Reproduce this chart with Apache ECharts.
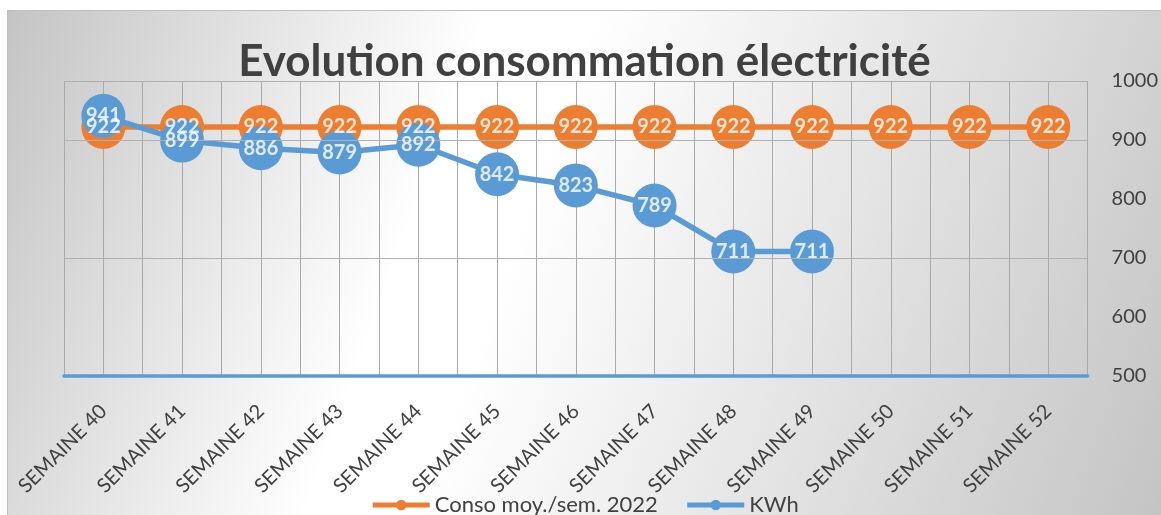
<!DOCTYPE html>
<html>
<head>
<meta charset="utf-8">
<script src="https://cdn.jsdelivr.net/npm/echarts@6/dist/echarts.min.js"></script>
<style>
  html, body { margin: 0; padding: 0; background: #ffffff; width: 1161px; height: 515px; overflow: hidden; }
  #chart {
    position: absolute; left: 7px; top: 10px; width: 1154px; height: 505px;
    box-sizing: border-box; border-top: 1px solid #c0c0c0; border-left: 1px solid #c0c0c0;
    background: linear-gradient(110deg, #c4c4c4 0%, #ffffff 36%, #ffffff 44%, #c4c4c4 100%);
  }
</style>
</head>
<body>
<div id="chart"></div>
<script>
const titleText = 'Evolution consommation électricité';
const categories = ['SEMAINE 40','SEMAINE 41','SEMAINE 42','SEMAINE 43','SEMAINE 44','SEMAINE 45','SEMAINE 46','SEMAINE 47','SEMAINE 48','SEMAINE 49','SEMAINE 50','SEMAINE 51','SEMAINE 52'];
const consoName = 'Conso moy./sem. 2022';
const consoValues = [922, 922, 922, 922, 922, 922, 922, 922, 922, 922, 922, 922, 922];
const kwhName = 'KWh';
const kwhValues = [941, 899, 886, 879, 892, 842, 823, 789, 711, 711, null, null, null];
const yMin = 500, yMax = 1000, yStep = 100;
const hGridLevels = [1000, 900, 700];

const ORANGE = '#ED7D31', BLUE = '#5B9BD5', TEXT = '#404040';
const FONT = 'Lato';

const chart = echarts.init(document.getElementById('chart'), null, { renderer: 'canvas' });

function lineSeries(name, data, color, z) {
  return {
    name: name, type: 'line', data: data, z: z,
    xAxisIndex: 0, yAxisIndex: 0,
    symbol: 'circle', symbolSize: 44, showSymbol: true,
    connectNulls: false,
    lineStyle: { color: color, width: 5.5 },
    itemStyle: { color: color },
    label: { show: false },
    emphasis: { disabled: true },
    animation: false
  };
}

function labelSeries(name, data) {
  return {
    name: name + ' labels', type: 'scatter', data: data, z: 10,
    xAxisIndex: 0, yAxisIndex: 0,
    symbol: 'circle', symbolSize: 1, itemStyle: { color: 'rgba(0,0,0,0)' },
    silent: true,
    label: {
      show: true, position: 'inside', color: '#ffffff',
      textBorderWidth: 0, textBorderColor: 'transparent',
      fontFamily: FONT, fontWeight: 'bold', fontSize: 20
    },
    emphasis: { disabled: true },
    animation: false
  };
}

chart.setOption({
  backgroundColor: 'transparent',
  animation: false,
  textStyle: { fontFamily: FONT },
  title: {
    text: titleText, left: 'center', top: 24,
    textStyle: { fontFamily: FONT, fontWeight: 'bold', fontSize: 44, color: TEXT }
  },
  legend: {
    top: 478, left: 'center',
    itemWidth: 57, itemHeight: 13, itemGap: 27,
    lineStyle: { width: 5 },
    textStyle: { fontFamily: FONT, fontSize: 22, color: TEXT },
    data: [consoName, kwhName]
  },
  grid: { left: 56, right: 73, top: 70, bottom: 139, containLabel: false },
  xAxis: [
    {
      type: 'category', data: categories, boundaryGap: true,
      axisLine: { show: true, lineStyle: { color: BLUE, width: 3.5 } },
      axisTick: { show: false },
      splitLine: { show: false },
      axisLabel: {
        rotate: 45, margin: 32, fontFamily: FONT, fontSize: 20, color: TEXT,
        interval: 0
      },
      z: 5
    },
    {
      type: 'value', min: -0.5, max: categories.length - 0.5, interval: 0.5,
      position: 'bottom', show: true,
      axisLine: { show: false }, axisTick: { show: false }, axisLabel: { show: false },
      splitLine: { show: true, lineStyle: { color: '#a9a9a9', width: 1 } }
    }
  ],
  yAxis: {
    type: 'value', position: 'right', min: yMin, max: yMax, interval: yStep,
    axisLine: { show: false }, axisTick: { show: false },
    splitLine: { show: false },
    axisLabel: { margin: 24, fontFamily: FONT, fontSize: 20, color: TEXT, formatter: v => String(v) }
  },
  series: [
    {
      name: '__grid', type: 'line', data: [], z: 1, silent: true,
      xAxisIndex: 0, yAxisIndex: 0,
      markLine: {
        silent: true, symbol: 'none', animation: false,
        label: { show: false },
        lineStyle: { color: '#b0b0b0', width: 1, type: 'solid' },
        emphasis: { disabled: true },
        data: hGridLevels.map(v => ({ yAxis: v }))
      }
    },
    lineSeries(consoName, consoValues, ORANGE, 3),
    lineSeries(kwhName, kwhValues, BLUE, 4),
    labelSeries(consoName, consoValues),
    labelSeries(kwhName, kwhValues)
  ]
});
</script>
</body>
</html>
